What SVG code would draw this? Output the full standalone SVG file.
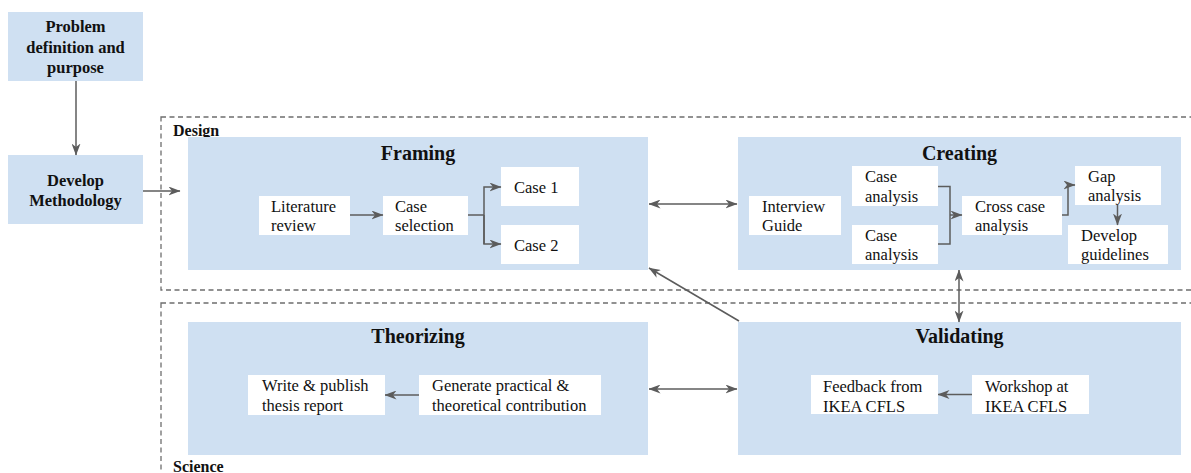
<svg xmlns="http://www.w3.org/2000/svg" width="1191" height="473" viewBox="0 0 1191 473" font-family="'Liberation Serif', 'Times New Roman', 'DejaVu Serif', serif">
  <style>
    .phase { fill: #cfe0f2; }
    .step { fill: #ffffff; }
    .lead { fill: #cfe0f2; }
    .zone { fill: none; stroke: #6e6e6e; stroke-width: 1.3; stroke-dasharray: 5 3.5; }
    .link { fill: none; stroke: #5c5c5c; stroke-width: 1.5; }
    text { font-family: "Liberation Serif", "Times New Roman", "DejaVu Serif", serif; fill: #111111; }
    .txt { font-size: 16.5px; }
    .bold { font-size: 16.5px; font-weight: bold; }
    .title { font-size: 20px; font-weight: bold; text-anchor: middle; }
    .zlabel { font-size: 16px; font-weight: bold; }
    .mid { text-anchor: middle; }
  </style>
  <defs>
    <marker id="head" viewBox="0 0 12 9" refX="11.5" refY="4.5" markerWidth="12" markerHeight="9" markerUnits="userSpaceOnUse" orient="auto-start-reverse">
      <path d="M0,0 L12,4.5 L0,9 L3.5,4.5 z" fill="#5c5c5c"/>
    </marker>
  </defs>

  <!-- dashed zones -->
  <g id="zones">
    <rect class="zone" x="161" y="117" width="1100" height="173"/>
    <rect class="zone" x="161" y="303" width="1100" height="220"/>
    <text class="zlabel" x="173" y="136">Design</text>
    <text class="zlabel" x="173" y="472">Science</text>
  </g>

  <!-- lead-in boxes -->
  <g id="problem">
    <rect class="lead" x="8" y="12" width="135" height="69"/>
    <text class="bold mid" x="75.5" y="32">Problem</text>
    <text class="bold mid" x="75.5" y="53">definition and</text>
    <text class="bold mid" x="75.5" y="73">purpose</text>
  </g>
  <g id="methodology">
    <rect class="lead" x="8" y="155" width="135" height="69"/>
    <text class="bold mid" x="75.5" y="186">Develop</text>
    <text class="bold mid" x="75.5" y="206">Methodology</text>
  </g>

  <!-- Framing -->
  <g id="framing">
    <rect class="phase" x="188" y="137" width="460" height="133"/>
    <text class="title" x="418" y="160">Framing</text>
    <g id="literature-review">
      <rect class="step" x="259" y="196" width="91" height="39"/>
      <text class="txt" x="271" y="212">Literature</text>
      <text class="txt" x="271" y="231">review</text>
    </g>
    <g id="case-selection">
      <rect class="step" x="383" y="196" width="85" height="39"/>
      <text class="txt" x="395" y="212">Case</text>
      <text class="txt" x="395" y="231">selection</text>
    </g>
    <g id="case-1">
      <rect class="step" x="501" y="167" width="78" height="39"/>
      <text class="txt" x="514" y="192.5">Case 1</text>
    </g>
    <g id="case-2">
      <rect class="step" x="501" y="225" width="78" height="39"/>
      <text class="txt" x="514" y="250.5">Case 2</text>
    </g>
  </g>

  <!-- Creating -->
  <g id="creating">
    <rect class="phase" x="738" y="137" width="443" height="133"/>
    <text class="title" x="959.5" y="160">Creating</text>
    <g id="interview-guide">
      <rect class="step" x="749" y="196" width="92" height="39"/>
      <text class="txt" x="762" y="211.5">Interview</text>
      <text class="txt" x="762" y="230.5">Guide</text>
    </g>
    <g id="case-analysis-1">
      <rect class="step" x="852" y="166" width="86" height="40"/>
      <text class="txt" x="865" y="182">Case</text>
      <text class="txt" x="865" y="201.5">analysis</text>
    </g>
    <g id="case-analysis-2">
      <rect class="step" x="852" y="225" width="86" height="39"/>
      <text class="txt" x="865" y="240.5">Case</text>
      <text class="txt" x="865" y="260">analysis</text>
    </g>
    <g id="cross-case">
      <rect class="step" x="962" y="196" width="100" height="39"/>
      <text class="txt" x="975" y="211.5">Cross case</text>
      <text class="txt" x="975" y="230.5">analysis</text>
    </g>
    <g id="gap-analysis">
      <rect class="step" x="1075" y="166" width="86" height="39"/>
      <text class="txt" x="1088" y="182">Gap</text>
      <text class="txt" x="1088" y="201">analysis</text>
    </g>
    <g id="develop-guidelines">
      <rect class="step" x="1068" y="225" width="100" height="39"/>
      <text class="txt" x="1081" y="240.5">Develop</text>
      <text class="txt" x="1081" y="260">guidelines</text>
    </g>
  </g>

  <!-- Theorizing -->
  <g id="theorizing">
    <rect class="phase" x="188" y="322" width="460" height="133"/>
    <text class="title" x="418" y="343">Theorizing</text>
    <g id="write-publish">
      <rect class="step" x="248" y="375" width="137" height="40"/>
      <text class="txt" x="262" y="391">Write &amp; publish</text>
      <text class="txt" x="262" y="411">thesis report</text>
    </g>
    <g id="contribution">
      <rect class="step" x="419" y="375" width="182" height="40"/>
      <text class="txt" x="432" y="391">Generate practical &amp;</text>
      <text class="txt" x="432" y="411">theoretical contribution</text>
    </g>
  </g>

  <!-- Validating -->
  <g id="validating">
    <rect class="phase" x="738" y="322" width="443" height="133"/>
    <text class="title" x="959.5" y="343">Validating</text>
    <g id="feedback">
      <rect class="step" x="811" y="375" width="127" height="39"/>
      <text class="txt" x="823" y="391.5">Feedback from</text>
      <text class="txt" x="823" y="411.5">IKEA CFLS</text>
    </g>
    <g id="workshop">
      <rect class="step" x="972" y="375" width="117" height="39"/>
      <text class="txt" x="985" y="391.5">Workshop at</text>
      <text class="txt" x="985" y="411.5">IKEA CFLS</text>
    </g>
  </g>

  <!-- connectors -->
  <g id="connectors">
    <line class="link" x1="76" y1="81" x2="76" y2="155" marker-end="url(#head)"/>
    <line class="link" x1="143" y1="191" x2="180" y2="191" marker-end="url(#head)"/>
    <line class="link" x1="350" y1="215" x2="383" y2="215" marker-end="url(#head)"/>
    <path class="link" d="M468,215 H484"/>
    <path class="link" d="M484,244 V187 H501" marker-end="url(#head)"/>
    <path class="link" d="M484,215 V244 H501" marker-end="url(#head)"/>
    <line class="link" x1="649" y1="204" x2="737" y2="204" marker-start="url(#head)" marker-end="url(#head)"/>
    <path class="link" d="M938,186.5 H950 V244 H938"/>
    <line class="link" x1="950" y1="215" x2="962" y2="215" marker-end="url(#head)"/>
    <path class="link" d="M1062,215 H1068 V185 H1075" marker-end="url(#head)"/>
    <line class="link" x1="1117.5" y1="205" x2="1117.5" y2="225" marker-end="url(#head)"/>
    <line class="link" x1="959" y1="270" x2="959" y2="322" marker-start="url(#head)" marker-end="url(#head)"/>
    <line class="link" x1="739" y1="321" x2="649" y2="268" marker-end="url(#head)"/>
    <line class="link" x1="649" y1="389" x2="737" y2="389" marker-start="url(#head)" marker-end="url(#head)"/>
    <line class="link" x1="419" y1="395" x2="385" y2="395" marker-end="url(#head)"/>
    <line class="link" x1="972" y1="394.5" x2="938" y2="394.5" marker-end="url(#head)"/>
  </g>
</svg>
